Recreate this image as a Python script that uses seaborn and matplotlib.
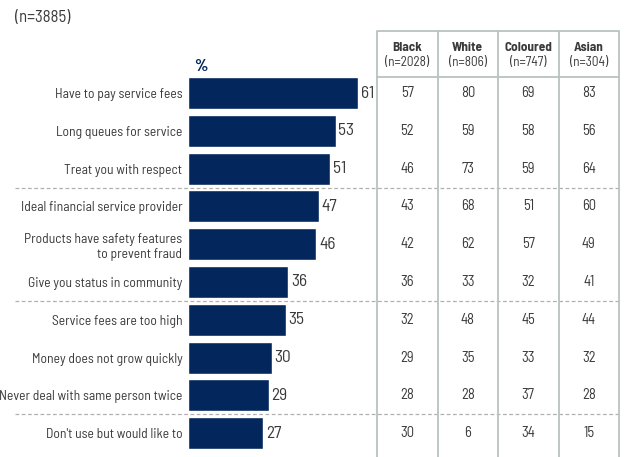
import matplotlib
matplotlib.use("Agg")
import matplotlib.pyplot as plt
import matplotlib.transforms as mtransforms
import seaborn as sns
import pandas as pd

# Survey data: reasons / attributes, overall percentage and by population group
labels = [
    "Have to pay service fees",
    "Long queues for service",
    "Treat you with respect",
    "Ideal financial service provider",
    "Products have safety features\nto prevent fraud",
    "Give you status in community",
    "Service fees are too high",
    "Money does not grow quickly",
    "Never deal with same person twice",
    "Don't use but would like to",
]
total = [61, 53, 51, 47, 46, 36, 35, 30, 29, 27]
black = [57, 52, 46, 43, 42, 36, 32, 29, 28, 30]
white = [80, 59, 73, 68, 62, 33, 48, 35, 28, 6]
coloured = [69, 58, 59, 51, 57, 32, 45, 33, 37, 34]
asian = [83, 56, 64, 60, 49, 41, 44, 32, 28, 15]
groups = ["Black", "White", "Coloured", "Asian"]
group_n = ["(n=2028)", "(n=806)", "(n=747)", "(n=304)"]
sample_note = "(n=3885)"
group_breaks = [2.5, 5.5, 8.5]

sns.set_theme(style="white")
plt.rcParams["font.family"] = ["Barlow Semi Condensed", "DejaVu Sans"]

NAVY = "#03275c"
TEXT = "#3a3a3a"
GRID = "#b9c1c1"
DASH = "#b0b0b0"

W, H = 627, 457
fig = plt.figure(figsize=(W / 100, H / 100), dpi=100)


def fig_rect(x0, y0, x1, y1):
    """Pixel box (top-left origin) to figure-fraction rect."""
    return [x0 / W, 1 - y1 / H, (x1 - x0) / W, (y1 - y0) / H]


row0, step = 93.0, 37.8   # pixel centre of first row and row pitch
def px_to_row(y):
    return (y - row0) / step

# ---- bar panel ----
bar_left, bar_right = 188, 377
ax = fig.add_axes(fig_rect(bar_left, row0 - 0.5 * step, bar_right, row0 + 9.5 * step))
df = pd.DataFrame({"label": labels, "total": total})
sns.barplot(data=df, y="label", x="total", orient="h", color=NAVY,
            saturation=1, width=0.85, ax=ax)
px_per_unit = 170 / 61
ax.set_xlim(0, (bar_right - bar_left) / px_per_unit)
ax.set_ylim(9.5, -0.5)
ax.set_xlabel("")
ax.set_ylabel("")
ax.set_xticks([])
ax.tick_params(axis="y", length=0, pad=4, labelsize=9.8, labelcolor=TEXT)
for s in ax.spines.values():
    s.set_visible(False)
for i, v in enumerate(total):
    ax.annotate(str(v), (v, i), xytext=(2, 0), textcoords="offset points",
                ha="left", va="center", fontsize=12.5, color=TEXT)
ax.text(0.03, -0.5, "%", transform=mtransforms.blended_transform_factory(ax.transAxes, ax.transData),
        ha="left", va="bottom", fontsize=12, fontweight="bold", color=NAVY)

# ---- table panel ----
tab_x0, tab_x1 = 377, 619
tab_top, tab_bot = 31, 457
tx = fig.add_axes(fig_rect(tab_x0, tab_top, tab_x1, tab_bot))
tx.set_xlim(0, 4)
tx.set_ylim(px_to_row(tab_bot), px_to_row(tab_top))
tx.axis("off")
header_line = px_to_row(77)
for c in range(5):
    tx.plot([c, c], [px_to_row(tab_top), px_to_row(tab_bot)], color=GRID, lw=1.3,
            clip_on=False, solid_capstyle="butt")
tx.plot([0, 4], [px_to_row(tab_top), px_to_row(tab_top)], color=GRID, lw=1.3, clip_on=False)
tx.plot([0, 4], [header_line, header_line], color=GRID, lw=1.3, clip_on=False)

for c, (g, n) in enumerate(zip(groups, group_n)):
    tx.text(c + 0.5, px_to_row(47), g, ha="center", va="center",
            fontsize=9.5, fontweight="bold", color=TEXT)
    tx.text(c + 0.5, px_to_row(62), n, ha="center", va="center",
            fontsize=9.5, color=TEXT)

for c, col in enumerate([black, white, coloured, asian]):
    for i, v in enumerate(col):
        tx.text(c + 0.5, i, str(v), ha="center", va="center", fontsize=10.5, color=TEXT)

# ---- dashed group separators across the whole figure ----
blend = mtransforms.blended_transform_factory(fig.transFigure, ax.transData)
for b in group_breaks:
    ax.plot([15 / W, 620 / W], [b, b], transform=blend, color=DASH, lw=0.9,
            ls=(0, (3, 2)), clip_on=False)

fig.text(15 / W, 1 - 17 / H, sample_note, ha="left", va="center", fontsize=12, color=TEXT)

fig.savefig("out.png", dpi=100)
